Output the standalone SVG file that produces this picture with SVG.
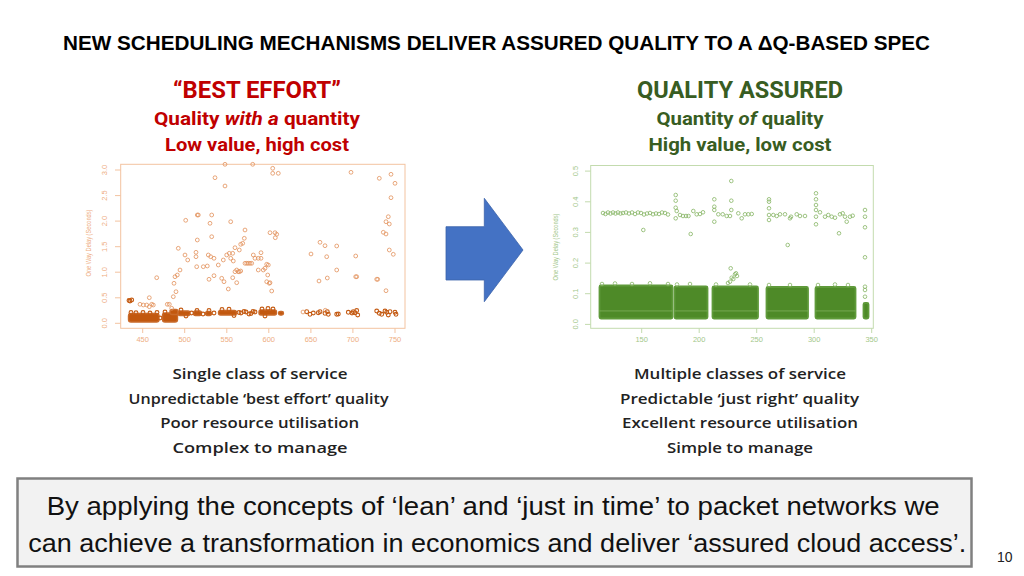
<svg xmlns="http://www.w3.org/2000/svg" width="1024" height="576" viewBox="0 0 1024 576">
<style>
.title{font-family:"Liberation Sans",Arial,sans-serif;font-weight:bold;font-size:20px;fill:#000}
.hd{font-family:Roboto,"Liberation Sans",sans-serif;font-weight:bold;text-anchor:middle}
.red{fill:#C00000}
.grn{fill:#385D22}
.bl{font-family:"Open Sans","Liberation Sans",sans-serif;font-weight:600;font-size:14.5px;fill:#222;text-anchor:middle}
.box{font-family:"Liberation Sans",Arial,sans-serif;font-size:26px;fill:#111}
.lax{font-family:"Liberation Sans",Arial,sans-serif;font-size:7.5px;fill:#EEAE82;text-anchor:middle}
.rax{font-family:"Liberation Sans",Arial,sans-serif;font-size:7.5px;fill:#A3C78A;text-anchor:middle}
.lo circle{fill:none;stroke:#E2905A;stroke-width:.8}
.lb circle{fill:none;stroke:#C45A12;stroke-width:1.1}
.ro circle{fill:none;stroke:#86B565;stroke-width:.8}
.ld rect{fill:#C2580F;stroke:#C96A2A;stroke-width:1.4;stroke-linejoin:round}
.gd rect{fill:#4E8A28;stroke:#5F9A3A;stroke-width:1.8;stroke-linejoin:round}
</style>
<rect width="1024" height="576" fill="#fff"/>

<text class="title" x="63" y="50" textLength="867" lengthAdjust="spacingAndGlyphs">NEW SCHEDULING MECHANISMS DELIVER ASSURED QUALITY TO A ΔQ-BASED SPEC</text>

<g id="best-effort-header">
<text class="hd red" x="257" y="98" font-size="23.5" textLength="168" lengthAdjust="spacingAndGlyphs">“BEST EFFORT”</text>
<text class="hd red" x="257" y="125" font-size="18.5" textLength="206" lengthAdjust="spacingAndGlyphs">Quality <tspan font-style="italic">with a</tspan> quantity</text>
<text class="hd red" x="257" y="150.5" font-size="18.5" textLength="184" lengthAdjust="spacingAndGlyphs">Low value, high cost</text>
</g>

<g id="quality-assured-header">
<text class="hd grn" x="740" y="98" font-size="23.5" textLength="206" lengthAdjust="spacingAndGlyphs">QUALITY ASSURED</text>
<text class="hd grn" x="740" y="125" font-size="18.5" textLength="167" lengthAdjust="spacingAndGlyphs">Quantity <tspan font-style="italic">of</tspan> quality</text>
<text class="hd grn" x="740" y="150.5" font-size="18.5" textLength="183" lengthAdjust="spacingAndGlyphs">High value, low cost</text>
</g>

<g id="left-plot">
<rect x="120.7" y="164.3" width="284.3" height="164" fill="none" stroke="#F3C3A0" stroke-width="1"/>
<g stroke="#F3C3A0" stroke-width="1">
<line x1="115" y1="323.3" x2="120.7" y2="323.3"/><line x1="115" y1="297.8" x2="120.7" y2="297.8"/><line x1="115" y1="272.2" x2="120.7" y2="272.2"/><line x1="115" y1="246.7" x2="120.7" y2="246.7"/><line x1="115" y1="221.1" x2="120.7" y2="221.1"/><line x1="115" y1="195.6" x2="120.7" y2="195.6"/><line x1="115" y1="170" x2="120.7" y2="170"/>
<line x1="142.7" y1="328.3" x2="142.7" y2="333"/><line x1="184.7" y1="328.3" x2="184.7" y2="333"/><line x1="226.8" y1="328.3" x2="226.8" y2="333"/><line x1="268.8" y1="328.3" x2="268.8" y2="333"/><line x1="310.9" y1="328.3" x2="310.9" y2="333"/><line x1="352.9" y1="328.3" x2="352.9" y2="333"/><line x1="395" y1="328.3" x2="395" y2="333"/>
</g>
<text class="lax" transform="translate(107,323.3) rotate(-90)">0.0</text>
<text class="lax" transform="translate(107,297.8) rotate(-90)">0.5</text>
<text class="lax" transform="translate(107,272.2) rotate(-90)">1.0</text>
<text class="lax" transform="translate(107,246.7) rotate(-90)">1.5</text>
<text class="lax" transform="translate(107,221.1) rotate(-90)">2.0</text>
<text class="lax" transform="translate(107,195.6) rotate(-90)">2.5</text>
<text class="lax" transform="translate(107,170) rotate(-90)">3.0</text>
<text class="lax" transform="translate(91,243) rotate(-90)" font-size="6.5" textLength="67" lengthAdjust="spacingAndGlyphs">One Way Delay (Seconds)</text>
<text class="lax" x="142.7" y="342">450</text><text class="lax" x="184.7" y="342">500</text><text class="lax" x="226.8" y="342">550</text><text class="lax" x="268.8" y="342">600</text><text class="lax" x="310.9" y="342">650</text><text class="lax" x="352.9" y="342">700</text><text class="lax" x="395" y="342">750</text>

<g class="ld">
<rect x="128.5" y="313.5" width="30.5" height="8.5" rx="2.5"/>
<rect x="162.5" y="313" width="15" height="9" rx="2.5"/>
<rect x="170" y="309.5" width="8" height="5" rx="2"/>
<rect x="178" y="311" width="12" height="4.5" rx="2"/>
<rect x="193.5" y="311" width="8" height="4.5" rx="2"/>
<rect x="205.5" y="311.5" width="6" height="4" rx="2"/>
<rect x="218.5" y="310.5" width="18" height="4.5" rx="2"/>
<rect x="259" y="310" width="17.5" height="5" rx="2"/>
<rect x="278.5" y="311.5" width="5" height="3.5" rx="1.7"/>
</g>
<g class="lb">
<circle cx="130" cy="301" r="1.9"/><circle cx="131.7" cy="300" r="1.9"/><circle cx="129" cy="300.5" r="1.9"/>
<circle cx="131" cy="312.5" r="1.9"/><circle cx="136" cy="312.8" r="1.9"/><circle cx="143" cy="312.5" r="1.9"/><circle cx="150" cy="313" r="1.9"/><circle cx="157" cy="312.5" r="1.9"/><circle cx="160" cy="318" r="1.9"/><circle cx="165" cy="312" r="1.9"/>
<circle cx="181" cy="310" r="1.9"/><circle cx="186" cy="316" r="1.9"/><circle cx="191.5" cy="313" r="1.9"/><circle cx="197" cy="310.5" r="1.9"/><circle cx="203" cy="314" r="1.9"/><circle cx="209" cy="310.5" r="1.9"/><circle cx="214" cy="313" r="1.9"/><circle cx="222" cy="309.5" r="1.9"/><circle cx="229" cy="309.3" r="1.9"/><circle cx="234" cy="315.5" r="1.9"/><circle cx="262" cy="309" r="1.9"/><circle cx="268" cy="308.5" r="1.9"/><circle cx="273" cy="309" r="1.9"/><circle cx="265" cy="316" r="1.9"/>
<circle cx="306.7" cy="311.7" r="1.9"/><circle cx="310" cy="314.3" r="1.9"/><circle cx="313.3" cy="313" r="1.9"/><circle cx="318.3" cy="312.7" r="1.9"/><circle cx="320" cy="311.7" r="1.9"/><circle cx="325" cy="313.3" r="1.9"/><circle cx="327.3" cy="311.7" r="1.9"/><circle cx="328.3" cy="314.3" r="1.9"/><circle cx="336.7" cy="314.3" r="1.9"/><circle cx="338.3" cy="314" r="1.9"/>
<circle cx="348.3" cy="312.3" r="1.9"/><circle cx="352" cy="313" r="1.9"/><circle cx="353.3" cy="311.7" r="1.9"/><circle cx="355" cy="312.7" r="1.9"/><circle cx="356.7" cy="310.5" r="1.9"/><circle cx="357.7" cy="315" r="1.9"/>
<circle cx="376.7" cy="311" r="1.9"/><circle cx="379.3" cy="313.3" r="1.9"/><circle cx="381.7" cy="314.3" r="1.9"/><circle cx="385" cy="311" r="1.9"/><circle cx="386.7" cy="312.3" r="1.9"/><circle cx="388.3" cy="315" r="1.9"/><circle cx="390" cy="311.7" r="1.9"/><circle cx="395" cy="312.3" r="1.9"/><circle cx="396" cy="314.3" r="1.9"/>
<circle cx="239" cy="312.5" r="1.9"/><circle cx="241" cy="313" r="1.9"/><circle cx="244" cy="311.5" r="1.9"/><circle cx="246" cy="312" r="1.9"/><circle cx="249" cy="314" r="1.9"/><circle cx="251" cy="313.5" r="1.9"/><circle cx="253" cy="311.5" r="1.9"/><circle cx="255" cy="312" r="1.9"/>
</g>
<g class="lo">
<circle cx="225" cy="164.3" r="1.9"/><circle cx="252.7" cy="164.3" r="1.9"/><circle cx="272.7" cy="168.3" r="1.9"/><circle cx="272.7" cy="173.3" r="1.9"/><circle cx="278.3" cy="173.3" r="1.9"/><circle cx="215" cy="177.7" r="1.9"/><circle cx="225" cy="186" r="1.9"/>
<circle cx="351" cy="172.3" r="1.9"/><circle cx="379.3" cy="178.3" r="1.9"/><circle cx="391" cy="174.3" r="1.9"/><circle cx="395" cy="183.3" r="1.9"/><circle cx="391" cy="197.7" r="1.9"/><circle cx="388.3" cy="216.7" r="1.9"/><circle cx="386" cy="221.7" r="1.9"/><circle cx="389.3" cy="224" r="1.9"/><circle cx="383.3" cy="232.3" r="1.9"/><circle cx="386" cy="234" r="1.9"/><circle cx="389.3" cy="250" r="1.9"/><circle cx="393.3" cy="254.3" r="1.9"/><circle cx="386" cy="290.7" r="1.9"/><circle cx="376.7" cy="279.3" r="1.9"/><circle cx="377.7" cy="279.3" r="1.9"/>
<circle cx="355.7" cy="256" r="1.9"/><circle cx="355.7" cy="276.7" r="1.9"/><circle cx="356.7" cy="276.7" r="1.9"/><circle cx="336.7" cy="246" r="1.9"/><circle cx="336.7" cy="270" r="1.9"/><circle cx="326.7" cy="256.7" r="1.9"/><circle cx="325" cy="245.7" r="1.9"/><circle cx="320" cy="242.3" r="1.9"/><circle cx="319" cy="281" r="1.9"/><circle cx="327.3" cy="278" r="1.9"/><circle cx="311" cy="254" r="1.9"/>
<circle cx="185.7" cy="220.3" r="1.9"/><circle cx="197.3" cy="215" r="1.9"/><circle cx="198.3" cy="215" r="1.9"/><circle cx="211.7" cy="215" r="1.9"/><circle cx="210" cy="223.3" r="1.9"/><circle cx="230.7" cy="221.7" r="1.9"/><circle cx="197.3" cy="240" r="1.9"/><circle cx="211.7" cy="236.7" r="1.9"/><circle cx="178.3" cy="248.3" r="1.9"/><circle cx="185" cy="255" r="1.9"/><circle cx="187.7" cy="260" r="1.9"/><circle cx="196" cy="252.3" r="1.9"/><circle cx="196" cy="256.7" r="1.9"/><circle cx="196.7" cy="266.7" r="1.9"/><circle cx="203.3" cy="266.7" r="1.9"/><circle cx="207.3" cy="266" r="1.9"/>
<circle cx="208.3" cy="255" r="1.9"/><circle cx="210.7" cy="256.7" r="1.9"/><circle cx="214" cy="258.3" r="1.9"/><circle cx="218.3" cy="265" r="1.9"/><circle cx="223.3" cy="260" r="1.9"/><circle cx="226.7" cy="255" r="1.9"/><circle cx="229.3" cy="253.3" r="1.9"/><circle cx="230.7" cy="258.3" r="1.9"/><circle cx="233.3" cy="261" r="1.9"/><circle cx="232.7" cy="253.3" r="1.9"/>
<circle cx="245" cy="230" r="1.9"/><circle cx="244.3" cy="238.3" r="1.9"/><circle cx="242.7" cy="243.3" r="1.9"/><circle cx="240.7" cy="244.3" r="1.9"/><circle cx="235" cy="247.7" r="1.9"/><circle cx="239.3" cy="250" r="1.9"/>
<circle cx="245" cy="263.3" r="1.9"/><circle cx="246.7" cy="263.3" r="1.9"/><circle cx="250" cy="263.3" r="1.9"/><circle cx="253.3" cy="255" r="1.9"/><circle cx="258.3" cy="258.3" r="1.9"/><circle cx="261" cy="252.7" r="1.9"/>
<circle cx="221.7" cy="278.3" r="1.9"/><circle cx="224" cy="281.7" r="1.9"/><circle cx="209" cy="279.3" r="1.9"/><circle cx="214" cy="275.7" r="1.9"/><circle cx="236.7" cy="270" r="1.9"/><circle cx="238.3" cy="271.7" r="1.9"/><circle cx="239.3" cy="271.7" r="1.9"/><circle cx="240.7" cy="271" r="1.9"/><circle cx="232.7" cy="277.7" r="1.9"/><circle cx="236.7" cy="282.7" r="1.9"/><circle cx="228.3" cy="289" r="1.9"/>
<circle cx="177.3" cy="275" r="1.9"/><circle cx="175" cy="276.7" r="1.9"/><circle cx="174" cy="283.3" r="1.9"/><circle cx="176" cy="291.7" r="1.9"/><circle cx="173.3" cy="296.7" r="1.9"/><circle cx="180" cy="270" r="1.9"/><circle cx="156.7" cy="277.7" r="1.9"/><circle cx="149.3" cy="297.7" r="1.9"/><circle cx="149.3" cy="306.7" r="1.9"/>
<circle cx="270" cy="232.7" r="1.9"/><circle cx="275" cy="232.7" r="1.9"/><circle cx="276.7" cy="234.3" r="1.9"/><circle cx="275.3" cy="237.7" r="1.9"/><circle cx="270" cy="282.7" r="1.9"/><circle cx="269.3" cy="283.3" r="1.9"/><circle cx="271.7" cy="291" r="1.9"/>
<circle cx="266.7" cy="264.3" r="1.9"/><circle cx="268.3" cy="265" r="1.9"/><circle cx="267.7" cy="275" r="1.9"/><circle cx="266.7" cy="281.7" r="1.9"/><circle cx="265" cy="268.3" r="1.9"/><circle cx="263.3" cy="270" r="1.9"/><circle cx="258.3" cy="270" r="1.9"/>
<circle cx="261" cy="258.3" r="1.9"/><circle cx="255" cy="258.3" r="1.9"/><circle cx="251.7" cy="263.3" r="1.9"/><circle cx="248.3" cy="263.3" r="1.9"/><circle cx="235" cy="271.7" r="1.9"/>
<circle cx="140" cy="304.3" r="1.9"/><circle cx="143.3" cy="305" r="1.9"/><circle cx="146.7" cy="305" r="1.9"/><circle cx="151.7" cy="304.3" r="1.9"/><circle cx="153.3" cy="305" r="1.9"/><circle cx="167.3" cy="304.3" r="1.9"/><circle cx="169.3" cy="304.3" r="1.9"/><circle cx="171.7" cy="308.3" r="1.9"/>
<circle cx="303" cy="312" r="1.9"/><circle cx="325.3" cy="310.3" r="1.9"/>
</g>
</g>

<g id="arrow">
<polygon points="446,226.7 484.3,226.7 484.3,198.3 523,250 484.3,301.7 484.3,280 446,280" fill="#4472C4" stroke="#3A62AA" stroke-width="0.8"/>
</g>

<g id="right-plot">
<rect x="590.7" y="165.5" width="282.6" height="162.8" fill="none" stroke="#C3DBAE" stroke-width="1"/>
<g stroke="#C3DBAE" stroke-width="1">
<line x1="585" y1="324.4" x2="590.7" y2="324.4"/><line x1="585" y1="293.7" x2="590.7" y2="293.7"/><line x1="585" y1="263.1" x2="590.7" y2="263.1"/><line x1="585" y1="232.4" x2="590.7" y2="232.4"/><line x1="585" y1="201.8" x2="590.7" y2="201.8"/><line x1="585" y1="171.1" x2="590.7" y2="171.1"/>
<line x1="641.7" y1="328.3" x2="641.7" y2="333"/><line x1="699.2" y1="328.3" x2="699.2" y2="333"/><line x1="756.7" y1="328.3" x2="756.7" y2="333"/><line x1="814.2" y1="328.3" x2="814.2" y2="333"/><line x1="871.7" y1="328.3" x2="871.7" y2="333"/>
</g>
<text class="rax" transform="translate(577.5,324.4) rotate(-90)">0.0</text>
<text class="rax" transform="translate(577.5,293.7) rotate(-90)">0.1</text>
<text class="rax" transform="translate(577.5,263.1) rotate(-90)">0.2</text>
<text class="rax" transform="translate(577.5,232.4) rotate(-90)">0.3</text>
<text class="rax" transform="translate(577.5,201.8) rotate(-90)">0.4</text>
<text class="rax" transform="translate(577.5,171.1) rotate(-90)">0.5</text>
<text class="rax" transform="translate(557.5,247) rotate(-90)" font-size="6.5" textLength="67" lengthAdjust="spacingAndGlyphs">One Way Delay (Seconds)</text>
<text class="rax" x="641.7" y="342">150</text><text class="rax" x="699.2" y="342">200</text><text class="rax" x="756.7" y="342">250</text><text class="rax" x="814.2" y="342">300</text><text class="rax" x="871.7" y="342">350</text>

<g class="gd">
<rect x="599.5" y="285.5" width="73" height="33" rx="1.5"/>
<rect x="674.5" y="286.5" width="33" height="32" rx="1.5"/>
<rect x="712.5" y="286.5" width="45.5" height="32" rx="1.5"/>
<rect x="766.5" y="287" width="41.5" height="31.5" rx="1.5"/>
<rect x="815.5" y="287" width="40" height="31.5" rx="1.5"/>
<rect x="863.5" y="303" width="5" height="15.5" rx="1.5"/>
</g>
<g fill="#8DBB6C" opacity=".5">
<rect x="599.5" y="310.3" width="73" height="1.2"/>
<rect x="674.5" y="310.3" width="33" height="1.2"/>
<rect x="712.5" y="310.3" width="45.5" height="1.2"/>
<rect x="766.5" y="310.3" width="41.5" height="1.2"/>
<rect x="815.5" y="310.3" width="40" height="1.2"/>
</g>
<g class="ro">
<circle cx="603" cy="213" r="1.8"/><circle cx="605.5" cy="214" r="1.8"/><circle cx="608" cy="212.5" r="1.8"/><circle cx="610.5" cy="213.5" r="1.8"/><circle cx="613" cy="212.5" r="1.8"/><circle cx="615.5" cy="213.5" r="1.8"/><circle cx="618" cy="212.5" r="1.8"/><circle cx="620.5" cy="213.5" r="1.8"/><circle cx="623" cy="213" r="1.8"/><circle cx="626" cy="212.5" r="1.8"/><circle cx="629" cy="213.5" r="1.8"/><circle cx="632" cy="212.5" r="1.8"/><circle cx="635" cy="214" r="1.8"/><circle cx="638" cy="212.5" r="1.8"/><circle cx="641" cy="213" r="1.8"/><circle cx="644" cy="214.5" r="1.8"/><circle cx="647" cy="213.5" r="1.8"/><circle cx="650" cy="213" r="1.8"/><circle cx="653" cy="214.3" r="1.8"/><circle cx="656" cy="213.5" r="1.8"/><circle cx="659" cy="214" r="1.8"/><circle cx="662" cy="212.5" r="1.8"/><circle cx="665" cy="213" r="1.8"/><circle cx="668" cy="214.5" r="1.8"/>
<circle cx="643.3" cy="230" r="1.8"/>
<circle cx="675.7" cy="195" r="1.8"/><circle cx="675.7" cy="200.7" r="1.8"/><circle cx="675.7" cy="207.7" r="1.8"/><circle cx="675.7" cy="218.3" r="1.8"/><circle cx="676.7" cy="211" r="1.8"/><circle cx="680" cy="215" r="1.8"/><circle cx="683" cy="216" r="1.8"/><circle cx="686" cy="216" r="1.8"/><circle cx="688.5" cy="216" r="1.8"/>
<circle cx="690.7" cy="234" r="1.8"/>
<circle cx="693.3" cy="211" r="1.8"/><circle cx="696.7" cy="214.3" r="1.8"/><circle cx="700" cy="214" r="1.8"/><circle cx="703" cy="212.3" r="1.8"/>
<circle cx="714.3" cy="199.3" r="1.8"/><circle cx="714.3" cy="206.7" r="1.8"/><circle cx="714.3" cy="210" r="1.8"/><circle cx="714.3" cy="221.7" r="1.8"/><circle cx="718.3" cy="214.3" r="1.8"/><circle cx="722.7" cy="214.3" r="1.8"/><circle cx="726.7" cy="216" r="1.8"/><circle cx="730" cy="216" r="1.8"/>
<circle cx="731.3" cy="181" r="1.8"/><circle cx="731.3" cy="200.7" r="1.8"/><circle cx="731.3" cy="210" r="1.8"/>
<circle cx="738.3" cy="213.3" r="1.8"/><circle cx="741.7" cy="218.3" r="1.8"/><circle cx="745" cy="214.3" r="1.8"/><circle cx="748.3" cy="214.3" r="1.8"/><circle cx="751.7" cy="214" r="1.8"/>
<circle cx="769" cy="199.3" r="1.8"/><circle cx="769" cy="201.7" r="1.8"/><circle cx="769" cy="208.3" r="1.8"/><circle cx="769" cy="215" r="1.8"/><circle cx="769" cy="220" r="1.8"/><circle cx="773.3" cy="215" r="1.8"/><circle cx="776.7" cy="216" r="1.8"/><circle cx="780" cy="214.3" r="1.8"/><circle cx="785" cy="214.3" r="1.8"/><circle cx="790" cy="218.3" r="1.8"/><circle cx="791" cy="216.7" r="1.8"/><circle cx="796.7" cy="214.3" r="1.8"/><circle cx="800" cy="216" r="1.8"/><circle cx="805" cy="216" r="1.8"/>
<circle cx="787.7" cy="245" r="1.8"/>
<circle cx="816" cy="193.3" r="1.8"/><circle cx="816" cy="199.3" r="1.8"/><circle cx="816" cy="205" r="1.8"/><circle cx="816" cy="210" r="1.8"/><circle cx="816" cy="216.7" r="1.8"/><circle cx="816" cy="224.3" r="1.8"/>
<circle cx="820" cy="212.3" r="1.8"/><circle cx="825" cy="216.7" r="1.8"/><circle cx="828.3" cy="215" r="1.8"/><circle cx="831.7" cy="216.7" r="1.8"/><circle cx="835" cy="217.7" r="1.8"/><circle cx="840" cy="214.3" r="1.8"/><circle cx="842.7" cy="213.3" r="1.8"/><circle cx="845" cy="216.7" r="1.8"/><circle cx="846.7" cy="221.7" r="1.8"/><circle cx="850" cy="216.7" r="1.8"/><circle cx="852.7" cy="215.7" r="1.8"/>
<circle cx="839" cy="233.3" r="1.8"/>
<circle cx="865" cy="210" r="1.8"/><circle cx="865" cy="216.7" r="1.8"/><circle cx="865" cy="227.3" r="1.8"/><circle cx="865" cy="257.3" r="1.8"/><circle cx="865" cy="286.7" r="1.8"/><circle cx="865" cy="290" r="1.8"/><circle cx="865" cy="296.7" r="1.8"/>
<circle cx="730.7" cy="268.3" r="1.8"/><circle cx="731.7" cy="277.7" r="1.8"/><circle cx="733.3" cy="279" r="1.8"/><circle cx="735" cy="274.3" r="1.8"/><circle cx="736" cy="273.3" r="1.8"/><circle cx="730" cy="281.7" r="1.8"/><circle cx="728" cy="283" r="1.8"/><circle cx="737" cy="276" r="1.8"/>
<circle cx="602" cy="284" r="1.8"/><circle cx="615" cy="283.5" r="1.8"/><circle cx="632" cy="284" r="1.8"/><circle cx="650" cy="283.3" r="1.8"/><circle cx="668" cy="284" r="1.8"/><circle cx="677" cy="284.5" r="1.8"/><circle cx="690" cy="284" r="1.8"/><circle cx="716" cy="284.5" r="1.8"/><circle cx="750" cy="284.5" r="1.8"/><circle cx="769" cy="285" r="1.8"/><circle cx="790" cy="285" r="1.8"/><circle cx="818" cy="285" r="1.8"/><circle cx="835" cy="284.5" r="1.8"/><circle cx="848" cy="285" r="1.8"/>
</g>
</g>

<g id="left-bullets">
<text class="bl" x="260" y="378.5" textLength="175" lengthAdjust="spacingAndGlyphs">Single class of service</text>
<text class="bl" x="258.5" y="403.5" textLength="260" lengthAdjust="spacingAndGlyphs">Unpredictable ‘best effort’ quality</text>
<text class="bl" x="259.7" y="428" textLength="199" lengthAdjust="spacingAndGlyphs">Poor resource utilisation</text>
<text class="bl" x="260" y="452.5" textLength="175" lengthAdjust="spacingAndGlyphs">Complex to manage</text>
</g>

<g id="right-bullets">
<text class="bl" x="740" y="378.5" textLength="212" lengthAdjust="spacingAndGlyphs">Multiple classes of service</text>
<text class="bl" x="739.5" y="403.5" textLength="239" lengthAdjust="spacingAndGlyphs">Predictable ‘just right’ quality</text>
<text class="bl" x="740" y="428" textLength="236" lengthAdjust="spacingAndGlyphs">Excellent resource utilisation</text>
<text class="bl" x="740" y="452.5" textLength="146" lengthAdjust="spacingAndGlyphs">Simple to manage</text>
</g>

<g id="summary-box">
<rect x="17.5" y="478.5" width="954" height="88" fill="#F2F2F2" stroke="#808080" stroke-width="2.5"/>
<text class="box" x="46.7" y="515" textLength="893" lengthAdjust="spacingAndGlyphs">By applying the concepts of ‘lean’ and ‘just in time’ to packet networks we</text>
<text class="box" x="28.3" y="552" textLength="938" lengthAdjust="spacingAndGlyphs">can achieve a transformation in economics and deliver ‘assured cloud access’.</text>
</g>

<text x="997" y="561.5" font-family="Liberation Sans, Arial, sans-serif" font-size="14" fill="#222">10</text>
</svg>
